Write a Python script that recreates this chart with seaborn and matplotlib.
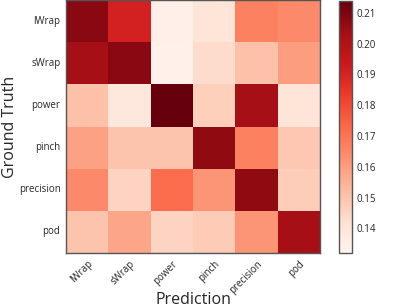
import matplotlib
matplotlib.use("Agg")
import matplotlib.pyplot as plt
import seaborn as sns
import numpy as np
import pandas as pd

labels = ["lWrap", "sWrap", "power", "pinch", "precision", "pod"]
row_lWrap = [0.208, 0.191, 0.135, 0.140, 0.167, 0.165]
row_sWrap = [0.203, 0.208, 0.134, 0.1435, 0.151, 0.160]
row_power = [0.151, 0.1385, 0.2138, 0.147, 0.2035, 0.140]
row_pinch = [0.159, 0.150, 0.150, 0.207, 0.167, 0.149]
row_precision = [0.165, 0.146, 0.172, 0.162, 0.207, 0.1475]
row_pod = [0.150, 0.158, 0.146, 0.148, 0.162, 0.203]
cbar_ticks = [0.14, 0.15, 0.16, 0.17, 0.18, 0.19, 0.20, 0.21]

df = pd.DataFrame([row_lWrap, row_sWrap, row_power, row_pinch, row_precision, row_pod],
                  index=labels, columns=labels)

sns.set_style("white")
plt.rcParams['font.family'] = ['Open Sans', 'DejaVu Sans']

W, H = 399, 308
fig = plt.figure(figsize=(W/100, H/100), dpi=100)
ax = fig.add_axes([66/W, (H-253)/H, 254/W, 253/H])
cax = fig.add_axes([339/W, (H-253)/H, 13/W, 252/H])

sns.heatmap(df, ax=ax, cbar_ax=cax, cmap="Reds", vmin=0.132, vmax=0.2138,
            cbar_kws={"ticks": cbar_ticks, "format": "%.2f"})

edge = "#555555"
for s in ax.spines.values():
    s.set_visible(True)
    s.set_color(edge)
    s.set_linewidth(1.0)
ax.tick_params(axis='both', which='both', direction='in', length=3, width=0.6,
               color='#333333', top=True, right=True, bottom=True, left=True,
               labelsize=7, pad=4)
ax.set_xticklabels(labels, rotation=45, ha='right', rotation_mode='anchor', fontsize=7)
ax.set_yticklabels(labels, rotation=0, fontsize=7)
ax.set_xlabel("Prediction", fontsize=11.5)
ax.set_ylabel("Ground Truth", fontsize=11.5)
ax.xaxis.set_label_coords(0.5, -(292 - 253) / 253)
ax.yaxis.set_label_coords((18 - 66) / 254, 0.5)

cax.tick_params(direction='in', length=3, width=0.6, color='#333333', labelsize=7, pad=3)
cb = ax.collections[0].colorbar
cb.outline.set_edgecolor(edge)
cb.outline.set_linewidth(1.0)

fig.savefig("out.png", dpi=100)
